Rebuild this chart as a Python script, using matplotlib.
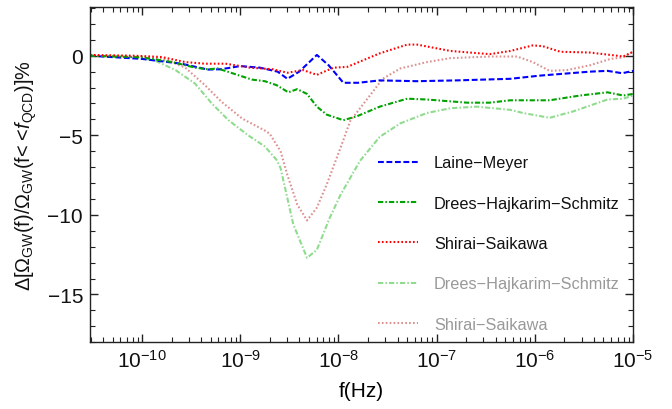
import numpy as np
import matplotlib
matplotlib.use("Agg")
import matplotlib.pyplot as plt
from matplotlib.ticker import MultipleLocator, NullFormatter, FixedLocator, FixedFormatter

plt.rcParams['font.family'] = ['Liberation Sans', 'DejaVu Sans']
plt.rcParams['mathtext.fontset'] = 'custom'
plt.rcParams['mathtext.rm'] = 'Liberation Sans'
plt.rcParams['mathtext.it'] = 'Liberation Sans:italic'
plt.rcParams['mathtext.bf'] = 'Liberation Sans:bold'
plt.rcParams['lines.scale_dashes'] = False

# log10(f/Hz) and percentage deviations
lm_logf = [-10.53, -10.0, -9.6, -9.33, -9.2, -9.0, -8.8, -8.62, -8.52, -8.4, -8.22, -8.1,
           -7.95, -7.8, -7.58, -7.2, -6.8, -6.25, -5.95, -5.44, -5.26, -5.11, -5.0]
lm_val = [0.0, -0.2, -0.5, -0.87, -0.85, -0.65, -0.75, -1.0, -1.45, -1.0, 0.05, -0.6,
          -1.7, -1.7, -1.55, -1.6, -1.55, -1.45, -1.25, -1.0, -0.95, -1.1, -0.95]

dhs_logf = [-10.53, -10.0, -9.9, -9.69, -9.46, -9.33, -9.23, -9.08, -8.88, -8.75, -8.63, -8.51,
            -8.42, -8.32, -8.22, -8.12, -7.95, -7.81, -7.58, -7.30, -7.10, -6.69, -6.46, -6.25,
            -5.85, -5.54, -5.26, -5.10, -5.0]
dhs_val = [0.0, -0.1, -0.2, -0.4, -0.75, -0.85, -0.8, -1.1, -1.5, -1.6, -1.85, -2.3,
           -2.1, -2.4, -3.2, -3.7, -4.05, -3.8, -3.2, -2.7, -2.75, -2.95, -2.95, -2.8,
           -2.8, -2.5, -2.3, -2.5, -2.4]

ss_logf = [-10.53, -10.07, -9.8, -9.56, -9.36, -9.15, -8.9, -8.67, -8.52, -8.36, -8.22, -8.05,
           -7.91, -7.58, -7.30, -7.2, -6.86, -6.46, -6.25, -6.02, -5.92, -5.74, -5.44, -5.16,
           -5.1, -5.0]
ss_val = [0.05, 0.0, -0.08, -0.4, -0.5, -0.5, -0.75, -0.85, -1.07, -0.9, -1.2, -0.75,
          -0.7, 0.15, 0.7, 0.7, 0.3, 0.1, 0.3, 0.65, 0.6, 0.25, 0.2, 0.0,
          -0.05, 0.25]

dhs2_logf = [-10.53, -10.07, -9.87, -9.66, -9.46, -9.29, -9.12, -8.92, -8.75, -8.63, -8.59, -8.46,
             -8.32, -8.22, -8.09, -7.98, -7.78, -7.58, -7.37, -7.10, -6.86, -6.59, -6.25, -6.12,
             -5.85, -5.61, -5.26, -5.10, -5.0]
dhs2_val = [0.0, -0.1, -0.3, -0.9, -1.75, -3.0, -4.05, -5.0, -5.7, -6.55, -7.05, -10.6,
            -12.7, -12.2, -10.2, -8.75, -6.6, -5.1, -4.25, -3.6, -3.3, -3.2, -3.4, -3.6,
            -3.9, -3.5, -2.75, -2.7, -2.5]

ss2_logf = [-10.53, -10.0, -9.77, -9.56, -9.36, -9.19, -8.98, -8.75, -8.70, -8.59, -8.52, -8.42,
            -8.32, -8.22, -8.12, -7.98, -7.88, -7.68, -7.55, -7.37, -7.10, -6.86, -6.46, -6.18,
            -6.02, -5.85, -5.67, -5.44, -5.23, -5.10, -5.0]
ss2_val = [0.0, -0.05, -0.2, -0.75, -1.85, -2.9, -3.95, -4.7, -4.9, -6.0, -7.5, -9.35,
           -10.35, -9.55, -8.1, -5.8, -4.1, -2.5, -1.45, -0.8, -0.4, -0.15, -0.05, -0.05,
           -0.4, -0.95, -0.9, -0.6, -0.2, -0.1, 0.25]

labels = ["Laine\u2212Meyer", "Drees\u2212Hajkarim\u2212Schmitz", "Shirai\u2212Saikawa",
          "Drees\u2212Hajkarim\u2212Schmitz", "Shirai\u2212Saikawa"]

x_decades = [-10, -9, -8, -7, -6, -5]
x_ticklabels = [r'$10^{-10}$', r'$10^{-9}$', r'$10^{-8}$', r'$10^{-7}$', r'$10^{-6}$', r'$10^{-5}$']
y_ticks = [0, -5, -10, -15]
y_ticklabels = ['0', '\u22125', '\u221210', '\u221215']

fig = plt.figure(figsize=(6.72, 4.10), dpi=100)
ax = fig.add_axes([0.134, 0.163, 0.808, 0.817])

def f(lst):
    return 10.0 ** np.asarray(lst)

lw = 1.5
dash = (4.2, 1.9)
dashdot = (3.8, 1.5, 1.1, 1.5)
dots = (1.2, 1.6)
l4, = ax.plot(f(dhs2_logf), dhs2_val, color='#8fdc8f', lw=lw, dashes=dashdot, label=labels[3])
l5, = ax.plot(f(ss2_logf), ss2_val, color='#dc9090', lw=lw, dashes=dots, label=labels[4])
l1, = ax.plot(f(lm_logf), lm_val, color='#0000ff', lw=lw, dashes=dash, label=labels[0])
l2, = ax.plot(f(dhs_logf), dhs_val, color='#00a300', lw=lw, dashes=dashdot, label=labels[1])
l3, = ax.plot(f(ss_logf), ss_val, color='#ff0000', lw=lw, dashes=dots, label=labels[2])

ax.set_xscale('log')
xmin, xmax = 10 ** -10.53, 1e-5
ax.set_xlim(xmin, xmax)
ax.set_ylim(-18, 3.05)

minor_x = [m * 10.0 ** d for d in range(-11, -5) for m in range(2, 10)]
minor_x = [v for v in minor_x if xmin <= v <= xmax]
ax.xaxis.set_major_locator(FixedLocator(f(x_decades)))
ax.xaxis.set_major_formatter(FixedFormatter(x_ticklabels))
ax.xaxis.set_minor_locator(FixedLocator(minor_x))
ax.xaxis.set_minor_formatter(NullFormatter())
ax.yaxis.set_major_locator(FixedLocator(y_ticks))
ax.yaxis.set_major_formatter(FixedFormatter(y_ticklabels))
ax.yaxis.set_minor_locator(MultipleLocator(1))
ax.yaxis.set_minor_formatter(NullFormatter())

ax.tick_params(which='both', direction='in', top=True, right=True, colors='#222222',
               labelcolor='#111111')
ax.tick_params(which='major', length=6, width=1.0, labelsize=15, pad=5)
ax.tick_params(which='minor', length=3.5, width=0.8)
for s in ax.spines.values():
    s.set_color('#222222')
    s.set_linewidth(1.0)

ax.set_xlabel('f(Hz)', fontsize=15, labelpad=7)
fig.text(26 / 672, 1 - 176 / 410,
         r'$\Delta[\Omega_{\rm GW}(\rm f)/\Omega_{\rm GW}(\rm f\!<\!<\!\mathit{f}_{\rm QCD})]\%$',
         fontsize=14.3, rotation=90, ha='center', va='center', color='#111111')

leg = ax.legend(handles=[l1, l2, l3, l4, l5], loc='upper left', bbox_to_anchor=(0.530, 0.558),
                frameon=False, fontsize=11.7, handlelength=2.5, labelspacing=1.56,
                handletextpad=0.95, borderpad=0, borderaxespad=0)
for i, t in enumerate(leg.get_texts()):
    t.set_color('#111111' if i < 3 else '#999999')

fig.savefig('out.png', dpi=100)
